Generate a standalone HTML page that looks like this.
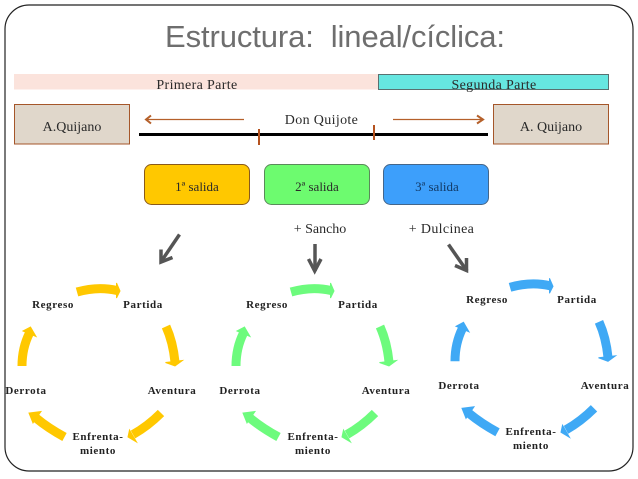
<!DOCTYPE html>
<html><head><meta charset="utf-8"><style>
html,body{margin:0;padding:0;background:#fff;width:638px;height:479px;overflow:hidden}
svg{display:block}
text{font-family:"Liberation Serif",serif;fill:#2a2a2a}
.t{font-size:13px;text-anchor:middle}
.m{font-size:14px;text-anchor:middle}
.w{font-size:14px;text-anchor:middle;letter-spacing:.35px}
.l{font-size:11px;font-weight:bold;text-anchor:middle;letter-spacing:.6px;fill:#222}
</style></head><body>
<svg width="638" height="479" viewBox="0 0 638 479" xmlns="http://www.w3.org/2000/svg">
<rect x="5" y="5" width="628" height="466" rx="24" fill="#fff" stroke="#222" stroke-width="1.2"/>
<text x="165" y="47" textLength="340" style="font-family:'Liberation Sans',sans-serif;font-size:31px;fill:#6e6e6e" xml:space="preserve">Estructura:  lineal/cíclica:</text>

<rect x="14" y="74" width="364" height="15.5" fill="#fbe3dc"/>
<rect x="378.5" y="74.5" width="230" height="15" fill="#66e6e0" stroke="#5a7070"/>
<text class="w" x="197" y="89">Primera Parte</text>
<text class="w" x="494" y="89">Segunda Parte</text>

<rect x="14.5" y="104.5" width="115" height="39.5" fill="#e0d7cb" stroke="#a5562a"/>
<rect x="493.5" y="104.5" width="115" height="39.5" fill="#e0d7cb" stroke="#a5562a"/>
<text class="m" x="72" y="131">A.Quijano</text>
<text class="m" x="551" y="131">A. Quijano</text>
<text class="w" x="321.500" y="124">Don Quijote</text>

<line x1="139" y1="134.5" x2="488" y2="134.5" stroke="#000" stroke-width="3"/>
<line x1="259" y1="129" x2="259" y2="145" stroke="#b5521f" stroke-width="2"/>
<line x1="374" y1="125" x2="374" y2="140" stroke="#b5521f" stroke-width="2"/>
<g fill="none" stroke="#b5602a" stroke-width="1.200">
<path d="M244 119.500H147"/>
<path d="M393 119.500H482"/>
<path d="M151 115.500L146 119.500L151 123.500" stroke-width="2"/>
<path d="M477 115.500L483 119.500L477 123.500" stroke-width="2"/>
</g>

<rect x="144.5" y="164.5" width="105" height="40" rx="7" fill="#ffc800" stroke="#8a5a1a"/>
<rect x="264.5" y="164.5" width="105" height="40" rx="7" fill="#6dfb6f" stroke="#5a8a5a"/>
<rect x="383.5" y="164.5" width="105" height="40" rx="7" fill="#3d9ffb" stroke="#44668a"/>
<text class="t" x="197" y="191">1ª salida</text>
<text class="t" x="317" y="191">2ª salida</text>
<text class="t" x="437" y="191" style="fill:#123a66">3ª salida</text>

<text class="m" x="320" y="233">+ Sancho</text>
<text class="w" x="441.500" y="233">+ Dulcinea</text>

<g fill="none" stroke="#555" stroke-width="3.500">
<path d="M179.500 234.500L161.500 261"/>
<path d="M161 249.500L161 262L172.500 257.500"/>
<path d="M315 244V271"/>
<path d="M308.500 259L314.700 271L321 259"/>
<path d="M448.500 244.500L467 271"/>
<path d="M455 265.500L466.500 270.500L466.500 258"/>
</g>

<defs>
<g id="c">
<g fill="none" stroke-width="9">
<path d="M77 292Q98 286 117 290.500"/>
<path d="M166 326.500Q173 342 175 362"/>
<path d="M161 413Q148 426 133 434.500"/>
<path d="M64.500 437Q48 428 36 418"/>
<path d="M22 366Q22 348 29.500 333"/>
</g>
<g stroke-width="1">
<path d="M116.500 283L120 291L116.500 298Z"/>
<path d="M165.500 362.500L182.500 360.500L175 366Z"/>
<path d="M129.500 430L136.500 442L128 437Z"/>
<path d="M41 411.500L33 423L29 413Z"/>
<path d="M23 331L36 336.500L30.500 327Z"/>
</g>
</g>
</defs>
<use href="#c" fill="#ffc800" stroke="#ffc800"/>
<use href="#c" x="214" fill="#6dfb7d" stroke="#6dfb7d"/>
<use href="#c" x="433" y="-4.700" fill="#3fa9f5" stroke="#3fa9f5"/>

<g>
<text class="l" x="53" y="308">Regreso</text><text class="l" x="143" y="308">Partida</text><text class="l" x="172" y="394">Aventura</text><text class="l" x="26" y="394">Derrota</text><text class="l" x="98" y="440">Enfrenta-</text><text class="l" x="98" y="454">miento</text>
<text class="l" x="267" y="308">Regreso</text><text class="l" x="358" y="308">Partida</text><text class="l" x="386" y="394">Aventura</text><text class="l" x="240" y="394">Derrota</text><text class="l" x="313" y="440">Enfrenta-</text><text class="l" x="313" y="454">miento</text>
<text class="l" x="487" y="303">Regreso</text><text class="l" x="577" y="303">Partida</text><text class="l" x="605" y="389">Aventura</text><text class="l" x="459" y="389">Derrota</text><text class="l" x="531" y="435">Enfrenta-</text><text class="l" x="531" y="449">miento</text>
</g>
</svg>
</body></html>
